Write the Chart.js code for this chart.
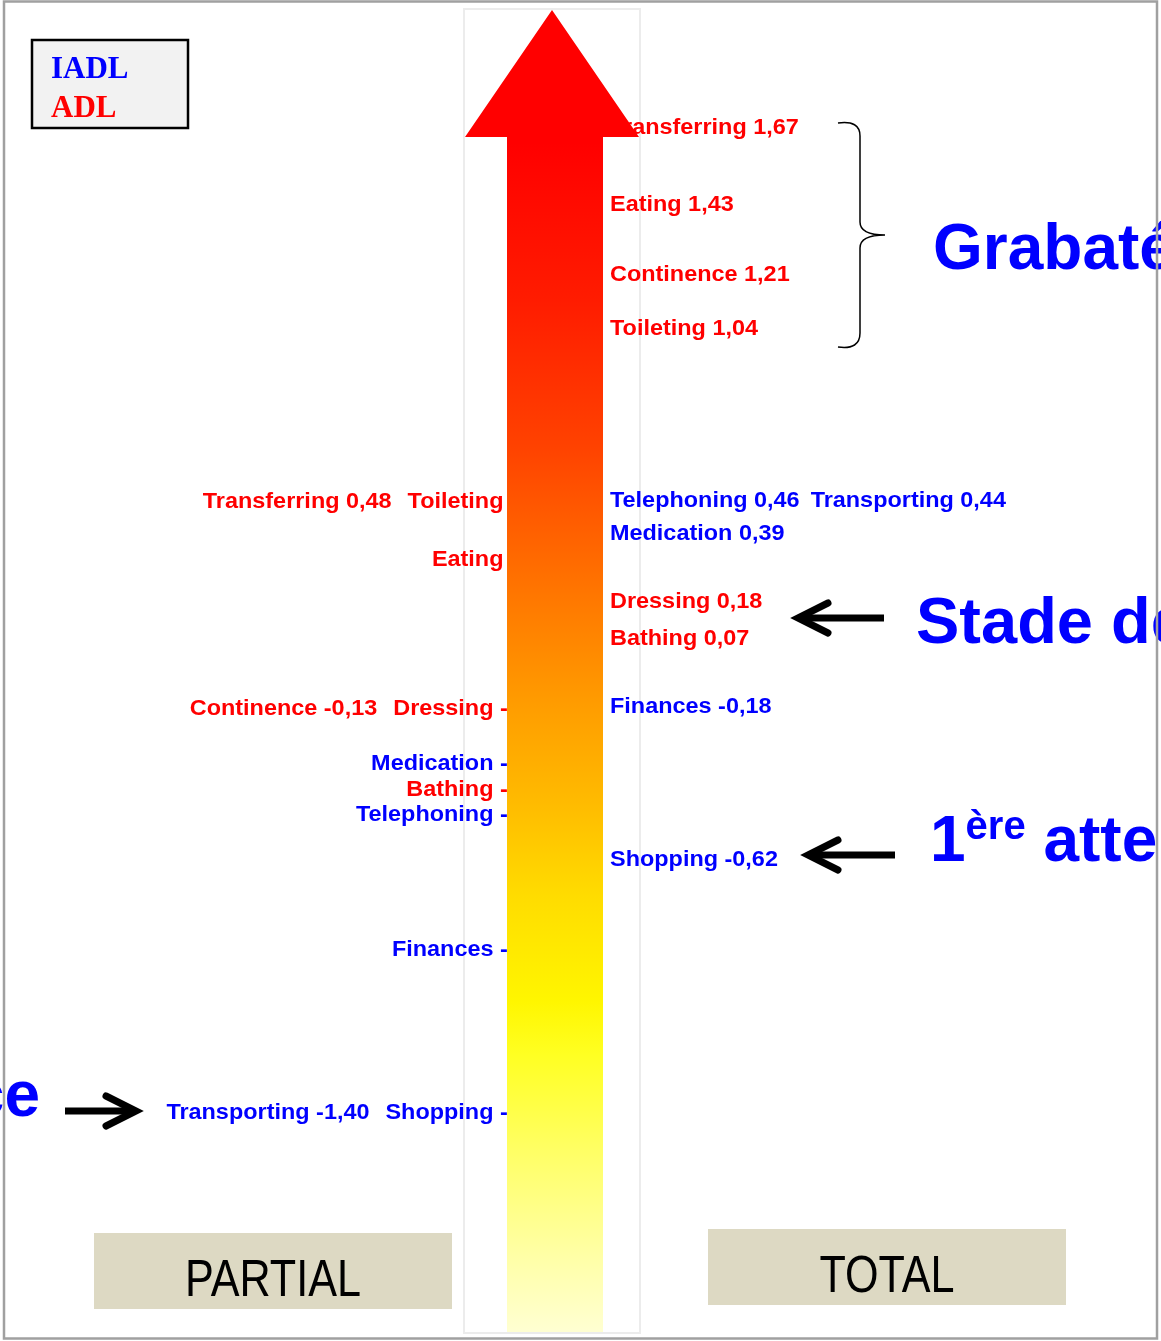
<!DOCTYPE html>
<html><head><meta charset="utf-8">
<script src="https://cdn.jsdelivr.net/npm/chart.js@4"></script>
<style>html,body{margin:0;padding:0;background:#fff;overflow:hidden}#wrap{position:relative;width:1161px;height:1341px}canvas{display:block}</style>
</head><body><div id="wrap"><canvas id="c" width="1161" height="1341"></canvas></div>
<script>
// ---------- DATA ----------
const totalItems    = ['Transferring','Eating','Continence','Toileting','Telephoning','Transporting','Medication','Dressing','Bathing','Finances','Shopping'];
const totalScores   = [1.67, 1.43, 1.21, 1.04, 0.46, 0.44, 0.39, 0.18, 0.07, -0.18, -0.62];
const totalScales   = ['ADL','ADL','ADL','ADL','IADL','IADL','IADL','ADL','ADL','IADL','IADL'];
const partialItems  = ['Transferring','Toileting','Eating','Continence','Dressing','Medication','Bathing','Telephoning','Finances','Transporting','Shopping'];
const partialScores = [0.48, 0.50, 0.32, -0.13, -0.15, -0.32, -0.40, -0.48, -0.90, -1.40, -1.41];
const partialScales = ['ADL','ADL','ADL','ADL','ADL','IADL','ADL','IADL','IADL','IADL','IADL'];
const sideLabels    = ['PARTIAL','TOTAL'];
const legendLabels  = ['IADL','ADL'];
const stageGrab     = 'Grabatérisation';
const stageDep      = 'Stade de dépendance';
const stageFirst    = ['1','ère',' atteinte'];
const stageIndep    = 'Indépendance';

// ---------- LAYOUT (positions / styles only) ----------
const totalRow     = [0,1,2,3,4,4,5,6,7,8,9];
const totalRowDy   = [0,0,0,0,-14,-3,-2,0,-12,0];
const partialRow   = [0,0,1,2,2,3,4,5,6,7,7];
const partialRowDy = [-6,0,6,0,0,0,0,4];
const partialGap   = [20,20,20,20,20,20,20,26];
const LABEL_DY = 2;
const COLORS = {ADL:'#ff0000', IADL:'#0000ff'};
const LABEL_FONT = '700 22px "Liberation Sans", Arial, sans-serif';
const SX = 1.065;
const fmt = v => v.toFixed(2).replace('.', ',');

function wText(ctx, t){ return ctx.measureText(t).width * SX; }
function sText(ctx, t, x, y, align){
  const w = wText(ctx, t);
  const left = align === 'right' ? x - w : x;
  ctx.save(); ctx.translate(left, y); ctx.scale(SX, 1); ctx.textAlign = 'left'; ctx.fillText(t, 0, 0); ctx.restore();
  return w;
}

function drawArrowShape(ctx, tailX, y, tipX){
  const dir = tipX < tailX ? 1 : -1;
  ctx.save();
  ctx.strokeStyle = '#000'; ctx.lineWidth = 7;
  ctx.lineCap = 'butt';
  ctx.beginPath(); ctx.moveTo(tailX, y); ctx.lineTo(tipX + dir*5, y); ctx.stroke();
  ctx.lineCap = 'round'; ctx.lineJoin = 'miter';
  ctx.beginPath();
  ctx.moveTo(tipX + dir*30, y - 15); ctx.lineTo(tipX, y); ctx.lineTo(tipX + dir*30, y + 15);
  ctx.stroke();
  ctx.restore();
}

const infographic = {
  id: 'infographic',
  beforeDraw(chart){
    const ctx = chart.ctx;
    ctx.save(); ctx.fillStyle = '#fff'; ctx.fillRect(0,0,chart.width,chart.height); ctx.restore();
  },
  afterDatasetsDraw(chart){
    const ctx = chart.ctx;
    const totMeta = chart.getDatasetMeta(0).data;
    const parMeta = chart.getDatasetMeta(1).data;
    ctx.save();
    ctx.strokeStyle = '#ececec'; ctx.lineWidth = 2;
    ctx.strokeRect(464, 9, 176, 1324);

    ctx.font = LABEL_FONT; ctx.textBaseline = 'middle';
    // TOTAL side labels
    const rowsT = {};
    totalItems.forEach((n,i)=>{ (rowsT[totalRow[i]] = rowsT[totalRow[i]] || []).push(i); });
    Object.keys(rowsT).forEach(r=>{
      const idx = rowsT[r];
      const y = totMeta[idx[0]].y + totalRowDy[r] + LABEL_DY;
      let x = 610;
      idx.forEach(i=>{
        const t = totalItems[i] + ' ' + fmt(totalScores[i]);
        ctx.fillStyle = COLORS[totalScales[i]];
        x += sText(ctx, t, x, y, 'left') + 11;
      });
    });
    // PARTIAL side labels
    const rowsP = {};
    partialItems.forEach((n,i)=>{ (rowsP[partialRow[i]] = rowsP[partialRow[i]] || []).push(i); });
    const spaceW = wText(ctx, ' ');
    Object.keys(rowsP).forEach(r=>{
      const idx = rowsP[r];
      const y = parMeta[idx[0]].y + partialRowDy[r] + LABEL_DY;
      const last = idx[idx.length-1];
      const v = partialScores[last];
      const xv = v < 0 ? 500 : 510;
      ctx.fillStyle = COLORS[partialScales[last]];
      const nw = sText(ctx, partialItems[last], xv - spaceW, y, 'right');
      sText(ctx, fmt(v), xv, y, 'left');
      let right = xv - spaceW - nw - 16;
      for (let k = idx.length-2; k >= 0; k--){
        const i = idx[k];
        const t = partialItems[i] + ' ' + fmt(partialScores[i]);
        ctx.fillStyle = COLORS[partialScales[i]];
        right -= sText(ctx, t, right, y, 'right') + partialGap[r];
      }
    });

    // big gradient arrow
    const g = ctx.createLinearGradient(0, 10, 0, 1332);
    g.addColorStop(0.00,'#ff0000');
    g.addColorStop(0.10,'#ff0000');
    g.addColorStop(0.22,'#ff1c00');
    g.addColorStop(0.33,'#ff4200');
    g.addColorStop(0.45,'#ff7a00');
    g.addColorStop(0.52,'#ff9a00');
    g.addColorStop(0.60,'#ffbb00');
    g.addColorStop(0.67,'#ffdc00');
    g.addColorStop(0.75,'#fff600');
    g.addColorStop(0.79,'#ffff22');
    g.addColorStop(0.86,'#ffff62');
    g.addColorStop(0.94,'#ffffa4');
    g.addColorStop(1.00,'#ffffd2');
    ctx.fillStyle = g;
    ctx.beginPath();
    ctx.moveTo(552, 10);
    ctx.lineTo(639, 137); ctx.lineTo(603, 137); ctx.lineTo(603, 1332);
    ctx.lineTo(507, 1332); ctx.lineTo(507, 137); ctx.lineTo(465, 137);
    ctx.closePath(); ctx.fill();

    // brace
    ctx.strokeStyle = '#000'; ctx.lineWidth = 1.5;
    ctx.beginPath();
    ctx.moveTo(838, 123);
    ctx.quadraticCurveTo(860, 120, 860, 136);
    ctx.lineTo(860, 222);
    ctx.quadraticCurveTo(860, 235, 885, 235);
    ctx.quadraticCurveTo(860, 235, 860, 248);
    ctx.lineTo(860, 333);
    ctx.quadraticCurveTo(860, 350, 838, 347);
    ctx.stroke();

    // black arrows
    drawArrowShape(ctx, 884, 618, 798);
    drawArrowShape(ctx, 895, 855, 808);
    drawArrowShape(ctx, 65, 1111, 136);

    // stage texts
    ctx.fillStyle = '#0000ff'; ctx.textBaseline = 'alphabetic'; ctx.textAlign = 'left';
    ctx.font = '700 64px "Liberation Sans", Arial, sans-serif';
    ctx.fillText(stageGrab, 933, 269);
    ctx.font = '700 65px "Liberation Sans", Arial, sans-serif';
    ctx.fillText(stageDep, 916, 643);
    ctx.font = '700 64px "Liberation Sans", Arial, sans-serif';
    let x = 930;
    ctx.fillText(stageFirst[0], x, 861); x += ctx.measureText(stageFirst[0]).width;
    ctx.font = '700 40px "Liberation Sans", Arial, sans-serif';
    ctx.fillText(stageFirst[1], x, 839); x += ctx.measureText(stageFirst[1]).width;
    ctx.font = '700 64px "Liberation Sans", Arial, sans-serif';
    ctx.fillText(stageFirst[2], x, 861);
    ctx.textAlign = 'right';
    ctx.fillText(stageIndep, 40, 1116);

    // legend box
    ctx.fillStyle = '#f2f2f2'; ctx.fillRect(32, 40, 156, 88);
    ctx.strokeStyle = '#000'; ctx.lineWidth = 2.5; ctx.strokeRect(32, 40, 156, 88);
    ctx.textAlign = 'left';
    ctx.font = '700 31px "Liberation Serif", "Times New Roman", serif';
    ctx.fillStyle = COLORS.IADL; ctx.fillText(legendLabels[0], 51, 78);
    ctx.fillStyle = COLORS.ADL;  ctx.fillText(legendLabels[1], 51, 117);

    // side boxes
    ctx.fillStyle = '#ddd9c3';
    ctx.fillRect(94, 1233, 358, 76);
    ctx.fillRect(708, 1229, 358, 76);
    ctx.fillStyle = '#000'; ctx.textAlign = 'center';
    ctx.font = '400 52px "Liberation Sans", Arial, sans-serif';
    [[sideLabels[0], 273, 1296], [sideLabels[1], 887, 1292]].forEach(([t, cx, by])=>{
      ctx.save(); ctx.translate(cx, by); ctx.scale(0.83, 1); ctx.fillText(t, 0, 0); ctx.restore();
    });

    // outer frame
    ctx.strokeStyle = '#a0a0a0'; ctx.lineWidth = 2.5;
    ctx.strokeRect(4, 1.5, 1153, 1337);
    ctx.restore();
  }
};

new Chart(document.getElementById('c'), {
  type: 'scatter',
  data: { datasets: [
    { label: sideLabels[1], data: totalScores.map(v => ({x: 1, y: v})), pointRadius: 0, pointHoverRadius: 0 },
    { label: sideLabels[0], data: partialScores.map(v => ({x: -1, y: v})), pointRadius: 0, pointHoverRadius: 0 }
  ]},
  options: {
    responsive: false, animation: false, devicePixelRatio: 1,
    layout: { padding: 0 },
    events: [],
    plugins: { legend: { display: false }, tooltip: { enabled: false } },
    scales: {
      x: { display: false, min: -1.5, max: 1.5 },
      y: { display: false, min: -2.131, max: 2.064 }
    }
  },
  plugins: [infographic]
});
</script>
</body></html>
